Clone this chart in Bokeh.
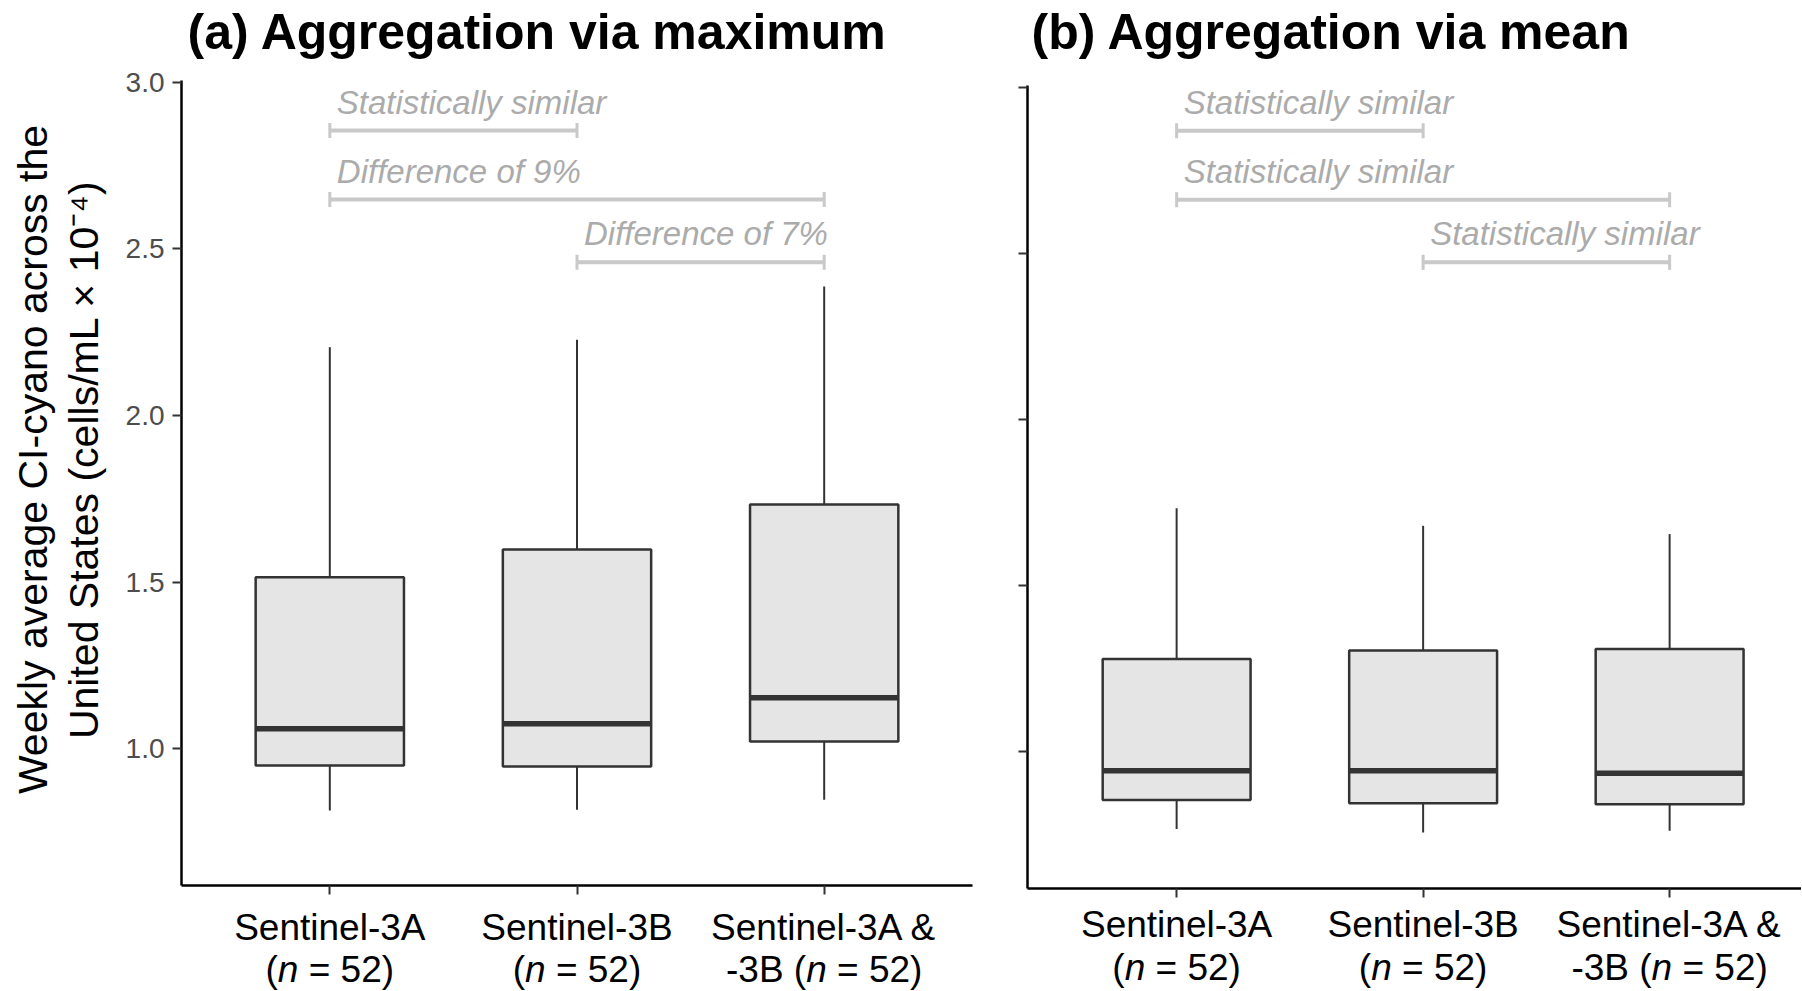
import math
from bokeh.plotting import figure
from bokeh.models import FixedTicker, ColumnDataSource, Range1d
from bokeh.layouts import row, column
from bokeh.embed import file_html
from bokeh.resources import INLINE
from bokeh.core.properties import value

# ---------------- data ----------------
categories = ["Sentinel-3A", "Sentinel-3B", "Sentinel-3A & -3B"]
cat_line1 = ["Sentinel-3A", "Sentinel-3B", "Sentinel-3A &"]
cat_line2_pre = ["(", "(", "-3B ("]
cat_line2_n = "n"
cat_line2_post = "= 52)"
x_pos = [1, 2, 3]

y_ticks = [1.0, 1.5, 2.0, 2.5, 3.0]
y_tick_labels = ["1.0", "1.5", "2.0", "2.5", "3.0"]

# (a) aggregation via maximum
max_lower = [0.815, 0.817, 0.847]
max_q1 = [0.950, 0.947, 1.022]
max_median = [1.060, 1.075, 1.153]
max_q3 = [1.515, 1.598, 1.733]
max_upper = [2.205, 2.227, 2.387]

# (b) aggregation via mean
mean_lower = [0.766, 0.756, 0.761]
mean_q1 = [0.854, 0.844, 0.841]
mean_median = [0.942, 0.942, 0.934]
mean_q3 = [1.279, 1.304, 1.309]
mean_upper = [1.733, 1.680, 1.655]

# significance brackets
bracket_from = [1, 1, 2]
bracket_to = [2, 3, 3]
max_bracket_y = [2.855, 2.648, 2.460]
mean_bracket_y = [2.871, 2.663, 2.474]
max_bracket_text = ["Statistically similar", "Difference of 9%", "Difference of 7%"]
mean_bracket_text = ["Statistically similar", "Statistically similar", "Statistically similar"]

titles = ["(a) Aggregation via maximum", "(b) Aggregation via mean"]
y_label_lines = ["Weekly average CI-cyano across the",
                 "United States (cells/mL \u00d7 10\u207b\u2074)"]

# ---------------- style / layout ----------------
FONT = "Liberation Sans"
MID = 0.3465          # baseline sits this many em below a "middle" anchor
TOP_H = 64
MAIN_H = 841
BOT_H = 85
BOX_W = 0.6
BOX_FILL = "#e5e5e5"
DARK = "#333333"
BR_COLOR = "#c9c9c9"
BR_TEXT = "#ababab"
CAT_FS = 37
BR_FS = 33
TITLE_FS = 50
YLAB_FS = 41
ARIAL_W = {'(': 333, ')': 333, 'n': 556, ' ': 278, '=': 584, '5': 556, '2': 556,
           '-': 333, '3': 556, 'B': 667}


def tw(s, fs):
    return sum(ARIAL_W.get(c, 556) for c in s) / 1000.0 * fs


def bare(width, height, xr, yr, ml=0, mr=0):
    f = figure(width=width, height=height, x_range=xr, y_range=yr,
               x_axis_type=None, y_axis_type=None,
               output_backend="svg", toolbar_location=None,
               min_border_left=ml, min_border_right=mr, min_border_top=0, min_border_bottom=0)
    f.xgrid.visible = False
    f.ygrid.visible = False
    f.outline_line_color = None
    return f


def make_panel(width, xr, yr, mb, lower, q1, med, q3, upper, br_y, br_text,
               title, title_dx, cat_base, show_ylabels):
    xrange = Range1d(*xr)
    p = figure(width=width, height=MAIN_H, x_range=xrange, y_range=Range1d(*yr),
               output_backend="svg", toolbar_location=None,
               min_border_left=mb[0], min_border_right=mb[1],
               min_border_top=mb[2], min_border_bottom=mb[3])
    p.xgrid.visible = False
    p.ygrid.visible = False
    p.outline_line_color = None

    for ax in (p.xaxis[0], p.yaxis[0]):
        ax.axis_line_color = "black"
        ax.axis_line_width = 2.5
        ax.major_tick_line_color = DARK
        ax.major_tick_line_width = 2
        ax.major_tick_out = 9
        ax.major_tick_in = 0
        ax.minor_tick_line_color = None
    p.xaxis.ticker = FixedTicker(ticks=x_pos)
    p.xaxis.major_label_overrides = {x: "" for x in x_pos}
    p.yaxis.ticker = FixedTicker(ticks=y_ticks)
    p.yaxis.major_label_text_font = FONT
    p.yaxis.major_label_text_color = "#4d4d4d"
    p.yaxis.major_label_standoff = 8
    p.yaxis.major_label_text_font_size = "28px"
    if show_ylabels:
        p.yaxis.major_label_overrides = {t: l for t, l in zip(y_ticks, y_tick_labels)}
    else:
        p.yaxis.major_label_overrides = {t: "" for t in y_ticks}

    half = BOX_W / 2
    src = ColumnDataSource(dict(
        x=x_pos, lower=lower, q1=q1, med=med, q3=q3, upper=upper,
        xl=[x - half for x in x_pos], xr=[x + half for x in x_pos]))
    p.segment(x0="x", y0="q3", x1="x", y1="upper", source=src, line_color=DARK, line_width=2)
    p.segment(x0="x", y0="q1", x1="x", y1="lower", source=src, line_color=DARK, line_width=2)
    p.vbar(x="x", width=BOX_W, bottom="q1", top="q3", source=src,
           fill_color=BOX_FILL, line_color=DARK, line_width=2.5)
    p.segment(x0="xl", y0="med", x1="xr", y1="med", source=src, line_color=DARK,
              line_width=5.5, line_cap="butt")

    # brackets
    ppu = (MAIN_H - mb[2] - mb[3]) / (yr[1] - yr[0])
    cap = 7.5 / ppu
    lift = (17 + MID * BR_FS) / ppu
    bsrc = ColumnDataSource(dict(
        x0=bracket_from, x1=bracket_to, y=br_y,
        ylo=[y - cap for y in br_y], yhi=[y + cap for y in br_y],
        ty=[y + lift for y in br_y], text=br_text))
    p.segment(x0="x0", y0="y", x1="x1", y1="y", source=bsrc, line_color=BR_COLOR, line_width=4)
    p.segment(x0="x0", y0="ylo", x1="x0", y1="yhi", source=bsrc, line_color=BR_COLOR, line_width=3)
    p.segment(x0="x1", y0="ylo", x1="x1", y1="yhi", source=bsrc, line_color=BR_COLOR, line_width=3)
    p.text(x="x0", y="ty", text="text", source=bsrc, x_offset=7,
           text_font=value(FONT), text_font_style="italic", text_font_size=f"{BR_FS}px",
           text_color=BR_TEXT, text_align="left", text_baseline="middle")

    # title strip (baseline 49.3 px from the top)
    t = bare(width, TOP_H, xrange, Range1d(0, TOP_H), mb[0], mb[1])
    t.text(x=[xr[0]], y=[TOP_H - 49.3 + MID * TITLE_FS], text=[title], x_offset=title_dx,
           text_font=value(FONT), text_font_style="bold", text_font_size=f"{TITLE_FS}px",
           text_color="black", text_align="left", text_baseline="middle")

    # category label strip (cat_base = baselines in px from the strip top)
    b = bare(width, BOT_H, xrange, Range1d(0, BOT_H), mb[0], mb[1])
    y1 = BOT_H - cat_base[0] + MID * CAT_FS
    y2 = BOT_H - cat_base[1] + MID * CAT_FS
    b.text(x=x_pos, y=[y1] * 3, text=cat_line1,
           text_font=value(FONT), text_font_size=f"{CAT_FS}px", text_color="black",
           text_align="center", text_baseline="middle")
    pre_off, n_off, post_off = [], [], []
    for pre in cat_line2_pre:
        total = tw(pre, CAT_FS) + tw(cat_line2_n, CAT_FS) + tw(" " + cat_line2_post, CAT_FS)
        s = -total / 2
        pre_off.append(s)
        n_off.append(s + tw(pre, CAT_FS))
        post_off.append(s + tw(pre, CAT_FS) + tw(cat_line2_n + " ", CAT_FS))
    csrc = ColumnDataSource(dict(x=x_pos, y=[y2] * 3, pre=cat_line2_pre,
                                 n=[cat_line2_n] * 3, post=[cat_line2_post] * 3,
                                 pre_off=pre_off, n_off=n_off, post_off=post_off))
    for field, off, style in (("pre", "pre_off", "normal"), ("n", "n_off", "italic"),
                              ("post", "post_off", "normal")):
        b.text(x="x", y="y", text=field, x_offset=off, source=csrc,
               text_font=value(FONT), text_font_style=style, text_font_size=f"{CAT_FS}px",
               text_color="black", text_align="left", text_baseline="middle")
    return column(t, p, b)


col_a = make_panel(891, (0.4, 3.6), (0.590, 3.005), (73, 27, 16, 20),
                   max_lower, max_q1, max_median, max_q3, max_upper,
                   max_bracket_y, max_bracket_text, titles[0], 6, (35, 77), True)
col_b = make_panel(802, (0.395, 3.535), (0.587, 3.007), (28, 0, 21, 17),
                   mean_lower, mean_q1, mean_median, mean_q3, mean_upper,
                   mean_bracket_y, mean_bracket_text, titles[1], 4, (32, 75), False)

# y-axis title strip (two rotated lines; baselines at x = 46.5 and 98)
TOTAL_H = TOP_H + MAIN_H + BOT_H
ylab = bare(108, TOTAL_H, Range1d(0, 108), Range1d(0, TOTAL_H))
ylab.text(x=[46.5 - MID * YLAB_FS, 98 - MID * YLAB_FS], y=[TOTAL_H - 459] * 2,
          text=y_label_lines, angle=math.pi / 2,
          text_font=value(FONT), text_font_size=f"{YLAB_FS}px", text_color="black",
          text_align="center", text_baseline="middle")

layout = row(ylab, col_a, col_b)
open("out.html", "w").write(file_html(layout, INLINE))
